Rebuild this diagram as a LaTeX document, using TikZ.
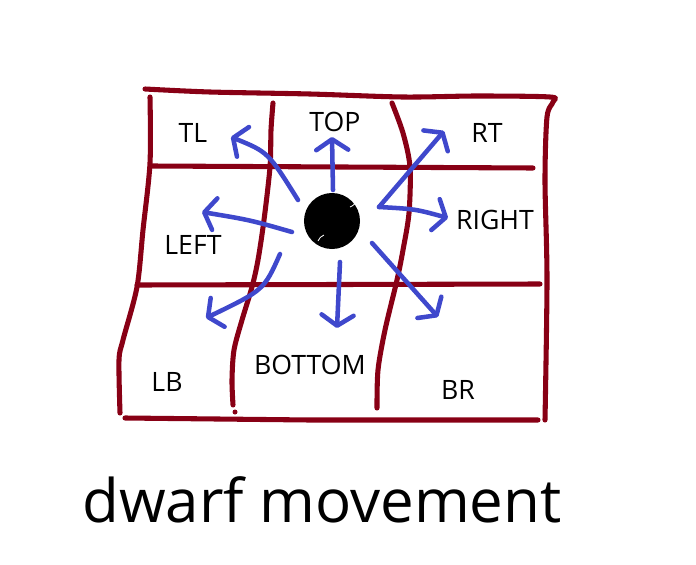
\documentclass[tikz,border=0pt]{standalone}
\usepackage{fontspec}
\setmainfont{Open Sans}
\usepackage{tikz}
\usetikzlibrary{arrows.meta}
\definecolor{wallred}{RGB}{136,0,21}
\definecolor{moveblue}{RGB}{63,72,204}

\begin{document}
\begin{tikzpicture}[x=0.75pt,y=-0.75pt,
  wall/.style={wallred, line width=3.8pt, line cap=round, line join=round},
  move/.style={moveblue, line width=3.4pt, line cap=round,
    -{Straight Barb[length=8pt,width=24pt,round]}},
  cell/.style={font=\fontsize{20}{24}\selectfont, inner sep=0pt}]
\useasboundingbox (0,0) rectangle (696,564);

% grid
\draw[wall] plot[smooth, tension=0.5] coordinates {(145,89) (210,92) (310,94) (403,97) (477,96) (550,97) (553,102) (547,117) (545,180) (547,280) (545,420)};
\draw[wall] plot[smooth, tension=0.5] coordinates {(150,97) (150,163) (143,230) (137,287) (123,340) (119,360) (120,413)};
\draw[wall] (125,418) -- (310,420) -- (538,420);
\draw[wall] (152,166) -- (533,168);
\draw[wall] (137,285) -- (540,284);
\draw[wall] plot[smooth, tension=0.5] coordinates {(273,103) (271,130) (270,167) (264,220) (258,260) (252,287) (242,320) (234,350) (232,380) (233,405)};
\draw[wall] plot[smooth, tension=0.5] coordinates {(392,103) (403,133) (410,167) (409,213) (403,250) (397,280) (385,330) (378,370) (377,408)};
\fill[wallred] (235,412) circle (2.5);

% labels
\foreach \n/\x/\y/\t in {tl/193/133/TL, top/335/122/TOP, rt/487/133/RT,
  left/193/245/LEFT, right/495/220/RIGHT,
  lb/167/382/LB, bottom/310/365/BOTTOM, br/458/390/BR}
  \node[cell] (lbl-\n) at (\x,\y) {\t};

% the dwarf
\node[circle, fill=black, draw=black, line width=2pt, minimum size=40pt, inner sep=0pt] (dwarf) at (332,221) {};
\draw[white, line width=0.6pt] ([shift={(350,207)}]0,0) arc[start angle=70, end angle=-40, radius=12];
\draw[white, line width=0.6pt] (318,241) arc[start angle=200, end angle=250, radius=10];

% moves
\coordinate (top-s) at (333,190);    \coordinate (top-e) at (332,137);
\coordinate (tl-s) at (298,200);     \coordinate (tl-e) at (231,137);
\coordinate (left-s) at (292,232);   \coordinate (left-e) at (202,212);
\coordinate (lb-s) at (280,254);     \coordinate (lb-e) at (206,318);
\coordinate (bot-s) at (340,262);    \coordinate (bot-e) at (337,328);
\coordinate (br-s) at (372,243);     \coordinate (br-e) at (438,317);
\coordinate (r-s) at (379,207);
\coordinate (rt-e) at (444,131);     \coordinate (right-e) at (448,218);

\draw[move] (top-s) -- (top-e);
\draw[move] (tl-s) .. controls (268,152) .. (tl-e);
\draw[move] (left-s) .. controls (250,220) .. (left-e);
\draw[move] (lb-s) .. controls (264,290) .. (lb-e);
\draw[move] (bot-s) -- (bot-e);
\draw[move] (br-s) -- (br-e);
\draw[move] (r-s) -- (rt-e);
\draw[move] (r-s) .. controls (415,209) .. (right-e);

\node[font=\fontsize{45}{54}\selectfont, anchor=base] (title) at (322,522) {dwarf movement};
\end{tikzpicture}
\end{document}
